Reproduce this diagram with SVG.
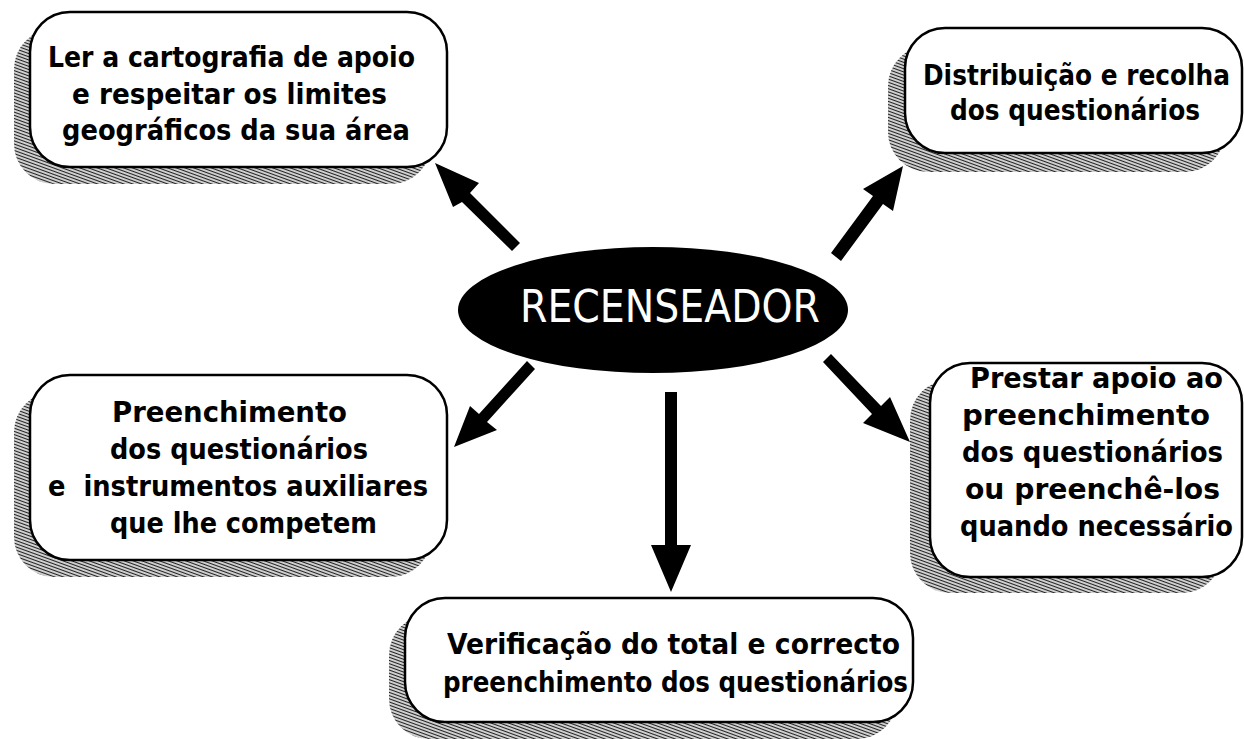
<svg xmlns="http://www.w3.org/2000/svg" width="1244" height="739" viewBox="0 0 1244 739">
<style>
.box{fill:#fff;stroke:#000;stroke-width:2.5}
.shadow{fill:url(#hatch);stroke:none}
.t{font-family:"DejaVu Sans Condensed","DejaVu Sans",sans-serif;font-weight:bold;font-size:28px;fill:#000}
.c{font-family:"DejaVu Sans Condensed","DejaVu Sans",sans-serif;font-size:44px;fill:#fff}
.arrow{fill:#000;stroke:none}
</style>
<defs>
<pattern id="hatch" patternUnits="userSpaceOnUse" width="3" height="3" patternTransform="rotate(20)">
<rect width="3" height="3" fill="#d8d8d8"/>
<line x1="0" y1="1.5" x2="3" y2="1.5" stroke="#222" stroke-width="1.1"/>
</pattern>
</defs>
<rect width="1244" height="739" fill="#fff"/>

<g id="connectors">
<polygon class="arrow" points="435,163 479,183 470,193 520,243 512,251 462,202 453,207"/>
<polygon class="arrow" points="903,166 893,211 883,204 841,261 831,253 873,196 863,189"/>
<polygon class="arrow" points="454,447 470,406 479,414 527,361 535,369 487,422 497,430"/>
<polygon class="arrow" points="665,392 677,392 677,545 691,545 671,592 651,545 665,545"/>
<polygon class="arrow" points="910,442 890,397 881,406 831,354 823,362 872,414 863,423"/>
</g>

<g id="node-center">
<ellipse cx="653" cy="310" rx="195" ry="63" fill="#000"/>
<text class="c" x="520" y="322" textLength="300" lengthAdjust="spacingAndGlyphs">RECENSEADOR</text>
</g>

<g id="node-cartografia">
<rect class="shadow" x="14" y="29" width="417" height="155" rx="40"/>
<rect class="box" x="30" y="12" width="417" height="155" rx="40"/>
<text class="t" x="48" y="67" textLength="367" lengthAdjust="spacingAndGlyphs">Ler a cartografia de apoio</text>
<text class="t" x="72" y="104" textLength="315" lengthAdjust="spacingAndGlyphs">e respeitar os limites</text>
<text class="t" x="62" y="140" textLength="348" lengthAdjust="spacingAndGlyphs">geográficos da sua área</text>
</g>

<g id="node-distribuicao">
<rect class="shadow" x="888" y="46" width="337" height="126" rx="40"/>
<rect class="box" x="905" y="28" width="337" height="125" rx="40"/>
<text class="t" x="923" y="85" textLength="307" lengthAdjust="spacingAndGlyphs">Distribuição e recolha</text>
<text class="t" x="950" y="120" textLength="250" lengthAdjust="spacingAndGlyphs">dos questionários</text>
</g>

<g id="node-preenchimento">
<rect class="shadow" x="14" y="392" width="417" height="185" rx="40"/>
<rect class="box" x="30" y="375" width="417" height="185" rx="40"/>
<text class="t" x="112" y="422" textLength="235" lengthAdjust="spacingAndGlyphs">Preenchimento</text>
<text class="t" x="110" y="459" textLength="258" lengthAdjust="spacingAndGlyphs">dos questionários</text>
<text class="t" x="48" y="496" textLength="380" lengthAdjust="spacingAndGlyphs" style="white-space:pre" xml:space="preserve">e  instrumentos auxiliares</text>
<text class="t" x="110" y="533" textLength="267" lengthAdjust="spacingAndGlyphs">que lhe competem</text>
</g>

<g id="node-apoio">
<rect class="shadow" x="910" y="380" width="312" height="213" rx="40"/>
<rect class="box" x="930" y="363" width="312" height="214" rx="40"/>
<text class="t" x="970" y="388" textLength="253" lengthAdjust="spacingAndGlyphs">Prestar apoio ao</text>
<text class="t" x="962" y="425" textLength="248" lengthAdjust="spacingAndGlyphs">preenchimento</text>
<text class="t" x="962" y="462" textLength="261" lengthAdjust="spacingAndGlyphs">dos questionários</text>
<text class="t" x="965" y="499" textLength="255" lengthAdjust="spacingAndGlyphs">ou preenchê-los</text>
<text class="t" x="960" y="536" textLength="273" lengthAdjust="spacingAndGlyphs">quando necessário</text>
</g>

<g id="node-verificacao">
<rect class="shadow" x="389" y="615" width="508" height="124" rx="40"/>
<rect class="box" x="405" y="598" width="508" height="124" rx="40"/>
<text class="t" x="447" y="654" textLength="453" lengthAdjust="spacingAndGlyphs">Verificação do total e correcto</text>
<text class="t" x="443" y="692" textLength="465" lengthAdjust="spacingAndGlyphs">preenchimento dos questionários</text>
</g>
</svg>
